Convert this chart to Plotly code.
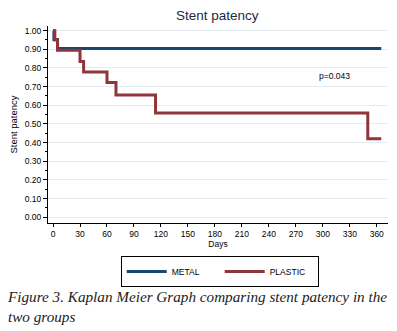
import plotly.graph_objects as go

# Data
metal_days = [0, 1, 5, 365]
metal_surv = [1.0, 0.952, 0.905, 0.905]

plastic_days = [0, 2, 5, 30, 34, 60, 70, 114, 350, 365]
plastic_surv = [1.0, 0.95, 0.895, 0.835, 0.778, 0.722, 0.655, 0.558, 0.42, 0.42]

x_ticks = list(range(0, 361, 30))
y_ticks = [i / 10 for i in range(0, 11)]

title_text = "Stent patency"
y_title = "Stent patency"
x_title = "Days"
p_text = "p=0.043"
caption = "<i>Figure 3. Kaplan Meier Graph comparing stent patency in the<br>two groups</i>"

METAL_COLOR = "#1a476f"
PLASTIC_COLOR = "#90353b"
FONT = "Liberation Sans, Arial, sans-serif"

fig = go.Figure()
fig.add_trace(go.Scatter(x=metal_days, y=metal_surv, mode="lines", name="METAL",
                         line=dict(color=METAL_COLOR, width=3, shape="hv")))
fig.add_trace(go.Scatter(x=plastic_days, y=plastic_surv, mode="lines", name="PLASTIC",
                         line=dict(color=PLASTIC_COLOR, width=3, shape="hv")))

fig.update_layout(
    width=397, height=331,
    margin=dict(l=48, r=9, t=26, b=108, autoexpand=False),
    paper_bgcolor="white", plot_bgcolor="white",
    font=dict(family=FONT, size=8, color="#000"),
    title=dict(text=title_text, x=0.547, xanchor="center", y=0.955, yanchor="middle",
               font=dict(size=13.5, color="#1e2a44", family=FONT)),
    showlegend=True,
    legend=dict(orientation="h", x=0.505, xanchor="center", y=-0.1675, yanchor="top",
                bordercolor="#000", borderwidth=1, font=dict(size=8.5, color="#000"),
                itemwidth=40, tracegroupgap=0, entrywidth=43),
    xaxis=dict(range=[-5.6, 372.5], tickvals=x_ticks, ticks="outside", ticklen=3,
               tickcolor="#000", showline=True, linecolor="#000", linewidth=1,
               showgrid=False, zeroline=False, tickfont=dict(size=8.5), automargin=False,
               title=dict(text=x_title, font=dict(size=8.5), standoff=2)),
    yaxis=dict(range=[-0.031, 1.025], tickvals=y_ticks, tickformat=".2f",
               ticks="outside", ticklen=4, tickcolor="#000", showline=True,
               linecolor="#000", linewidth=1, showgrid=True, gridcolor="#e3ecef",
               gridwidth=1, zeroline=False, tickfont=dict(size=8.5), automargin=False,
               minor=dict(tickvals=[i / 20 for i in range(1, 20, 2)], ticks="outside",
                          ticklen=2, tickcolor="#000", showgrid=False),
               title=dict(text=y_title, font=dict(size=9.5), standoff=5)),
)

fig.add_annotation(x=313, y=0.755, xref="x", yref="y", text=p_text, showarrow=False,
                   font=dict(size=8.5, color="#000"))
fig.add_annotation(x=-0.126, y=-0.424, xref="paper", yref="paper", xanchor="left", yanchor="middle",
                   text=caption, showarrow=False, align="left",
                   font=dict(size=15.2, color="#222", family="Liberation Serif, Times New Roman, serif"))
fig.write_html("out.html", config={"displayModeBar": False},
               post_script="document.body.style.margin='0';document.body.style.overflow='hidden';")
